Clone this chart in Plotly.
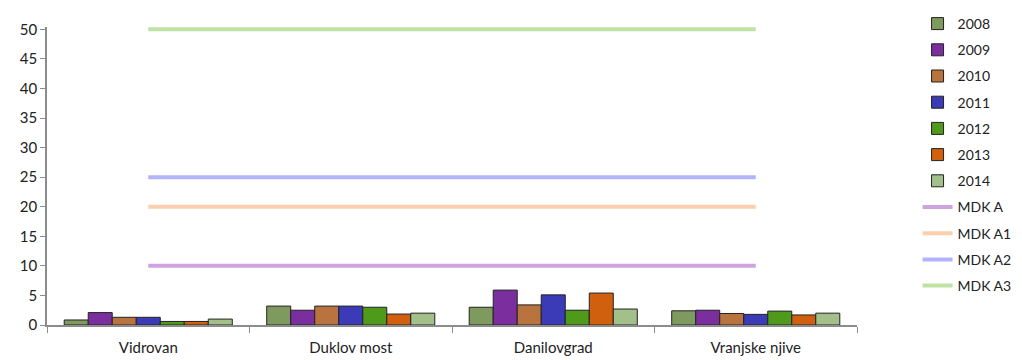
import plotly.graph_objects as go

categories = ['Vidrovan', 'Duklov most', 'Danilovgrad', 'Vranjske njive']
years = ['2008', '2009', '2010', '2011', '2012', '2013', '2014']

v2008 = [0.85, 3.2, 3.0, 2.4]
v2009 = [2.1, 2.5, 5.9, 2.5]
v2010 = [1.3, 3.2, 3.4, 1.95]
v2011 = [1.3, 3.2, 5.1, 1.8]
v2012 = [0.6, 3.0, 2.5, 2.35]
v2013 = [0.6, 1.85, 5.4, 1.7]
v2014 = [1.0, 2.0, 2.7, 2.0]

mdk_names = ['MDK A', 'MDK A1', 'MDK A2', 'MDK A3']
mdk_values = [10, 20, 25, 50]

bar_colors = ['#7f9a5f', '#7b2f9e', '#b8733f', '#3b3bb8', '#4f9a1a', '#d0600e', '#a3c08a']
line_colors = ['#cfa3e0', '#fbcfad', '#b3b3fb', '#bfe3a3']

fig = go.Figure()

for name, vals, col in zip(years, [v2008, v2009, v2010, v2011, v2012, v2013, v2014], bar_colors):
    fig.add_trace(go.Bar(
        x=categories, y=vals, name=name, legendgroup=name,
        marker=dict(color=col, line=dict(color='#222222', width=1))
    ))

for name, val, col in zip(mdk_names, mdk_values, line_colors):
    fig.add_trace(go.Scatter(
        x=categories, y=[val] * len(categories), name=name, legendgroup=name,
        mode='lines', line=dict(color=col, width=4)
    ))

# page body has an 8px margin, so the figure is a bit smaller than the window
fig.update_layout(
    width=1014, height=352,
    plot_bgcolor='white', paper_bgcolor='white',
    margin=dict(l=39, r=165, t=19, b=35, autoexpand=False),
    barmode='group', bargap=0.17, bargroupgap=0,
    font=dict(family='Lato, Open Sans, sans-serif', size=15, color='#222222'),
    legend=dict(xref='container', yref='container', x=0.897, y=1.015,
                xanchor='left', yanchor='top', maxheight=1,
                font=dict(size=14), tracegroupgap=5),
    showlegend=True,
)

fig.update_xaxes(
    type='category', showline=True, linecolor='#8c8c8c', linewidth=1.5,
    ticks='outside', tickson='boundaries', ticklen=6, tickcolor='#8c8c8c',
    showgrid=False, ticklabelstandoff=8,
)
fig.update_yaxes(
    range=[0, 50.4], tickvals=list(range(0, 55, 5)), showline=True,
    linecolor='#8c8c8c', linewidth=1.5,
    ticks='outside', ticklen=5, tickcolor='#8c8c8c', showgrid=False, zeroline=False,
)

fig.write_html("out.html")
